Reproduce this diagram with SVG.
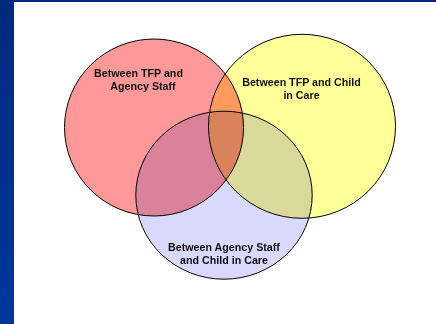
<svg xmlns="http://www.w3.org/2000/svg" width="436" height="324" viewBox="0 0 436 324">
  <style>
    .set { stroke: #000; stroke-width: 1; mix-blend-mode: multiply; }
    .lbl { font-family: "Liberation Sans", Arial, sans-serif; font-weight: bold; font-size: 10.7px; fill: #111; text-anchor: middle; }
  </style>
  <defs>
    <linearGradient id="frame" x1="0" y1="0" x2="0" y2="1">
      <stop offset="0" stop-color="#00297e"/>
      <stop offset="1" stop-color="#00369c"/>
    </linearGradient>
  </defs>

  <!-- page and frame -->
  <rect x="0" y="0" width="436" height="324" fill="#fff"/>
  <rect x="0" y="0" width="14" height="324" fill="url(#frame)"/>
  <rect x="0" y="0" width="436" height="2" fill="#00297e"/>

  <g id="venn" style="isolation:isolate">
    <g id="tfp-agency">
      <ellipse class="set" cx="154" cy="127.5" rx="89.5" ry="88.5" fill="#ff9999"/>
      <text class="lbl" x="138.5" y="76.7">Between TFP and</text>
      <text class="lbl" x="143" y="90">Agency Staff</text>
    </g>
    <g id="tfp-child">
      <ellipse class="set" cx="302" cy="126.3" rx="93.5" ry="92" fill="#ffff99"/>
      <text class="lbl" x="301.5" y="86">Between TFP and Child</text>
      <text class="lbl" x="301.5" y="99">in Care</text>
    </g>
    <g id="agency-child">
      <ellipse class="set" cx="224" cy="195.2" rx="88.2" ry="84" fill="#d9d9ff"/>
      <text class="lbl" x="224" y="251">Between Agency Staff</text>
      <text class="lbl" x="224" y="263.8">and Child in Care</text>
    </g>
  </g>
</svg>
